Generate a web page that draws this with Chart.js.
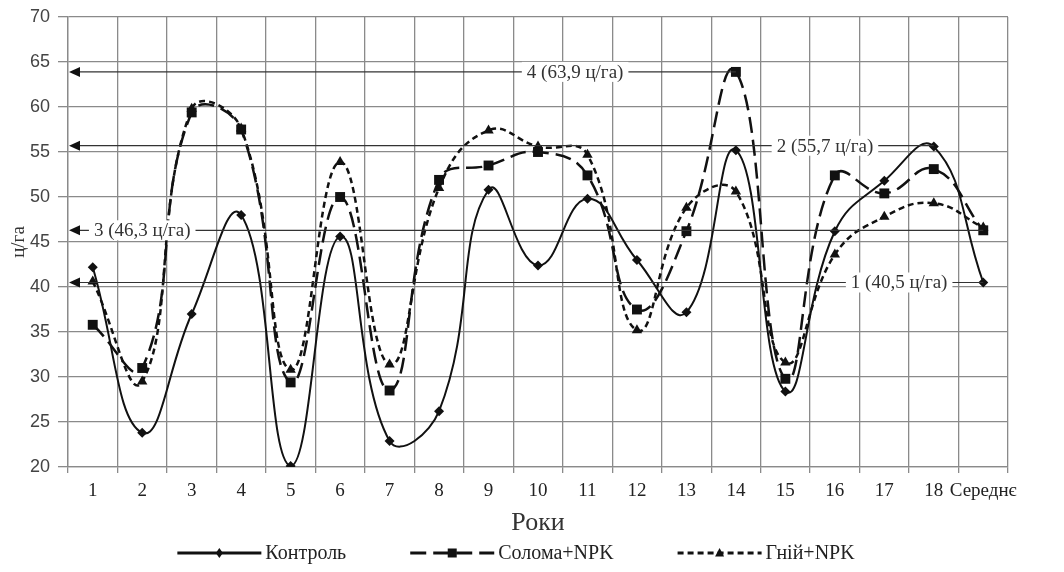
<!DOCTYPE html>
<html>
<head>
<meta charset="utf-8">
<script src="https://cdn.jsdelivr.net/npm/chart.js@4"></script>
<style>
  html, body { margin: 0; padding: 0; background: #fff; }
  #wrap { width: 1064px; height: 572px; }
</style>
</head>
<body>
<div id="wrap"><canvas id="chart" width="1064" height="572"></canvas></div>
<script>
const years = ['1','2','3','4','5','6','7','8','9','10','11','12','13','14','15','16','17','18','Середнє']

const kontrol = [42.2, 23.8, 37.0, 48.0, 20.1, 45.6, 22.9, 26.2, 50.8, 42.4, 49.8, 43.0, 37.2, 55.2, 28.4, 46.2, 51.8, 55.6, 40.5]
const soloma  = [35.8, 31.0, 59.4, 57.5, 29.4, 50.0, 28.5, 51.9, 53.5, 55.0, 52.4, 37.5, 46.2, 63.9, 29.8, 52.4, 50.4, 53.1, 46.3]
const gnij    = [40.6, 29.5, 59.8, 57.6, 30.8, 53.9, 31.4, 51.0, 57.4, 55.6, 54.7, 35.2, 48.8, 50.6, 31.6, 43.6, 47.8, 49.3, 46.6]

// reference lines: value, text, index of last category the line reaches, label position (category units)
const refValues = [63.9, 55.7, 46.3, 40.5]
const refLabels = ['4 (63,9 ц/га)', '2 (55,7 ц/га)', '3 (46,3 ц/га)', '1 (40,5 ц/га)']
const refEnds = [13, 17, 18, 18]
const refLabelAt = [9.75, 14.8, 1.0, 16.3]

const serif = '"Liberation Serif", "DejaVu Serif", serif'

const refLines = {
  id: 'refLines',
  afterDatasetsDraw(chart) {
    const {ctx, chartArea, scales: {x, y}} = chart
    ctx.save()
    ctx.font = '19px ' + serif
    ctx.textAlign = 'center'
    ctx.textBaseline = 'middle'
    refValues.forEach((v, i) => {
      const py = y.getPixelForValue(v)
      const x0 = chartArea.left
      const x1 = x.getPixelForValue(refEnds[i])
      ctx.strokeStyle = '#333'
      ctx.lineWidth = 1.2
      ctx.setLineDash([])
      ctx.beginPath()
      ctx.moveTo(x0 + 6, py)
      ctx.lineTo(x1, py)
      ctx.stroke()
      // arrow head
      ctx.fillStyle = '#111'
      ctx.beginPath()
      ctx.moveTo(x0 + 1, py)
      ctx.lineTo(x0 + 12, py - 5)
      ctx.lineTo(x0 + 12, py + 5)
      ctx.closePath()
      ctx.fill()
      // label
      const lx = x.getPixelForValue(0) + refLabelAt[i] * (x.getPixelForValue(1) - x.getPixelForValue(0))
      const w = ctx.measureText(refLabels[i]).width
      ctx.fillStyle = '#fff'
      ctx.fillRect(lx - w / 2 - 5, py - 10, w + 10, 20)
      ctx.fillStyle = '#333'
      ctx.fillText(refLabels[i], lx, py + 1)
    })
    ctx.restore()
  }
}

const bottomLegend = {
  id: 'bottomLegend',
  afterDraw(chart) {
    const ctx = chart.ctx
    const sets = chart.data.datasets
    ctx.save()
    ctx.font = '20px ' + serif
    ctx.textBaseline = 'middle'
    const sample = 84, gap = 4, spacing = 64
    let total = 0
    sets.forEach((d, i) => {
      total += sample + gap + ctx.measureText(d.label).width
      if (i < sets.length - 1) total += spacing
    })
    let px = 516 - total / 2
    const py = 553
    sets.forEach((d) => {
      ctx.strokeStyle = '#111'
      ctx.lineWidth = 3
      ctx.setLineDash(d.borderDash || [])
      ctx.beginPath()
      ctx.moveTo(px, py)
      ctx.lineTo(px + sample, py)
      ctx.stroke()
      ctx.setLineDash([])
      const mx = px + sample / 2
      ctx.fillStyle = '#111'
      ctx.beginPath()
      if (d.pointStyle === 'rect') {
        ctx.rect(mx - 4.5, py - 4.5, 9, 9)
      } else if (d.pointStyle === 'triangle') {
        ctx.moveTo(mx, py - 5)
        ctx.lineTo(mx + 4.5, py + 3.5)
        ctx.lineTo(mx - 4.5, py + 3.5)
      } else {
        ctx.moveTo(mx, py - 5)
        ctx.lineTo(mx + 3.5, py)
        ctx.lineTo(mx, py + 5)
        ctx.lineTo(mx - 3.5, py)
      }
      ctx.closePath()
      ctx.fill()
      ctx.fillStyle = '#222'
      ctx.fillText(d.label, px + sample + gap, py + 1)
      px += sample + gap + ctx.measureText(d.label).width + spacing
    })
    ctx.restore()
  }
}

new Chart(document.getElementById('chart'), {
  type: 'line',
  data: {
    labels: years,
    datasets: [
      {
        label: 'Контроль',
        data: kontrol,
        borderColor: '#111',
        backgroundColor: '#111',
        borderWidth: 2,
        tension: 0.45,
        pointStyle: 'rectRot',
        pointRadius: 5,
        pointBackgroundColor: '#111',
        pointBorderWidth: 0
      },
      {
        label: 'Солома+NPK',
        data: soloma,
        borderColor: '#111',
        backgroundColor: '#111',
        borderWidth: 2.5,
        borderDash: [16, 7],
        tension: 0.45,
        pointStyle: 'rect',
        pointRadius: 7,
        pointBackgroundColor: '#111',
        pointBorderWidth: 0
      },
      {
        label: 'Гній+NPK',
        data: gnij,
        borderColor: '#111',
        backgroundColor: '#111',
        borderWidth: 2.5,
        borderDash: [6, 4],
        tension: 0.45,
        pointStyle: 'triangle',
        pointRadius: 6,
        pointBackgroundColor: '#111',
        pointBorderWidth: 0
      }
    ]
  },
  options: {
    responsive: false,
    animation: false,
    layout: { padding: { left: 0, right: 56, top: 15, bottom: 29 } },
    plugins: {
      legend: { display: false },
      tooltip: { enabled: false }
    },
    scales: {
      x: {
        offset: true,
        grid: { offset: true, color: '#8a8a8a', lineWidth: 1.3, tickLength: 6 },
        border: { color: '#8a8a8a', width: 1.3 },
        ticks: { color: '#222', font: { family: serif, size: 19 }, padding: 7, maxRotation: 0, autoSkip: false },
        title: { display: true, text: 'Роки', color: '#333', font: { family: serif, size: 26 }, padding: { top: 6, bottom: 4 } },
        afterFit(scale) { scale.height = 76 }
      },
      y: {
        min: 20,
        max: 70,
        ticks: { stepSize: 5, color: '#444', font: { family: '"Liberation Sans", Arial, sans-serif', size: 18, lineHeight: 1 }, padding: 8 },
        grid: { color: '#8a8a8a', lineWidth: 1.3, tickLength: 10 },
        border: { color: '#8a8a8a', width: 1.3 },
        title: { display: true, text: 'ц/га', color: '#333', font: { family: serif, size: 19 }, padding: { top: 8, bottom: 0 } },
        afterFit(scale) { scale.width = 68 }
      }
    }
  },
  plugins: [refLines, bottomLegend]
})
</script>
</body>
</html>
